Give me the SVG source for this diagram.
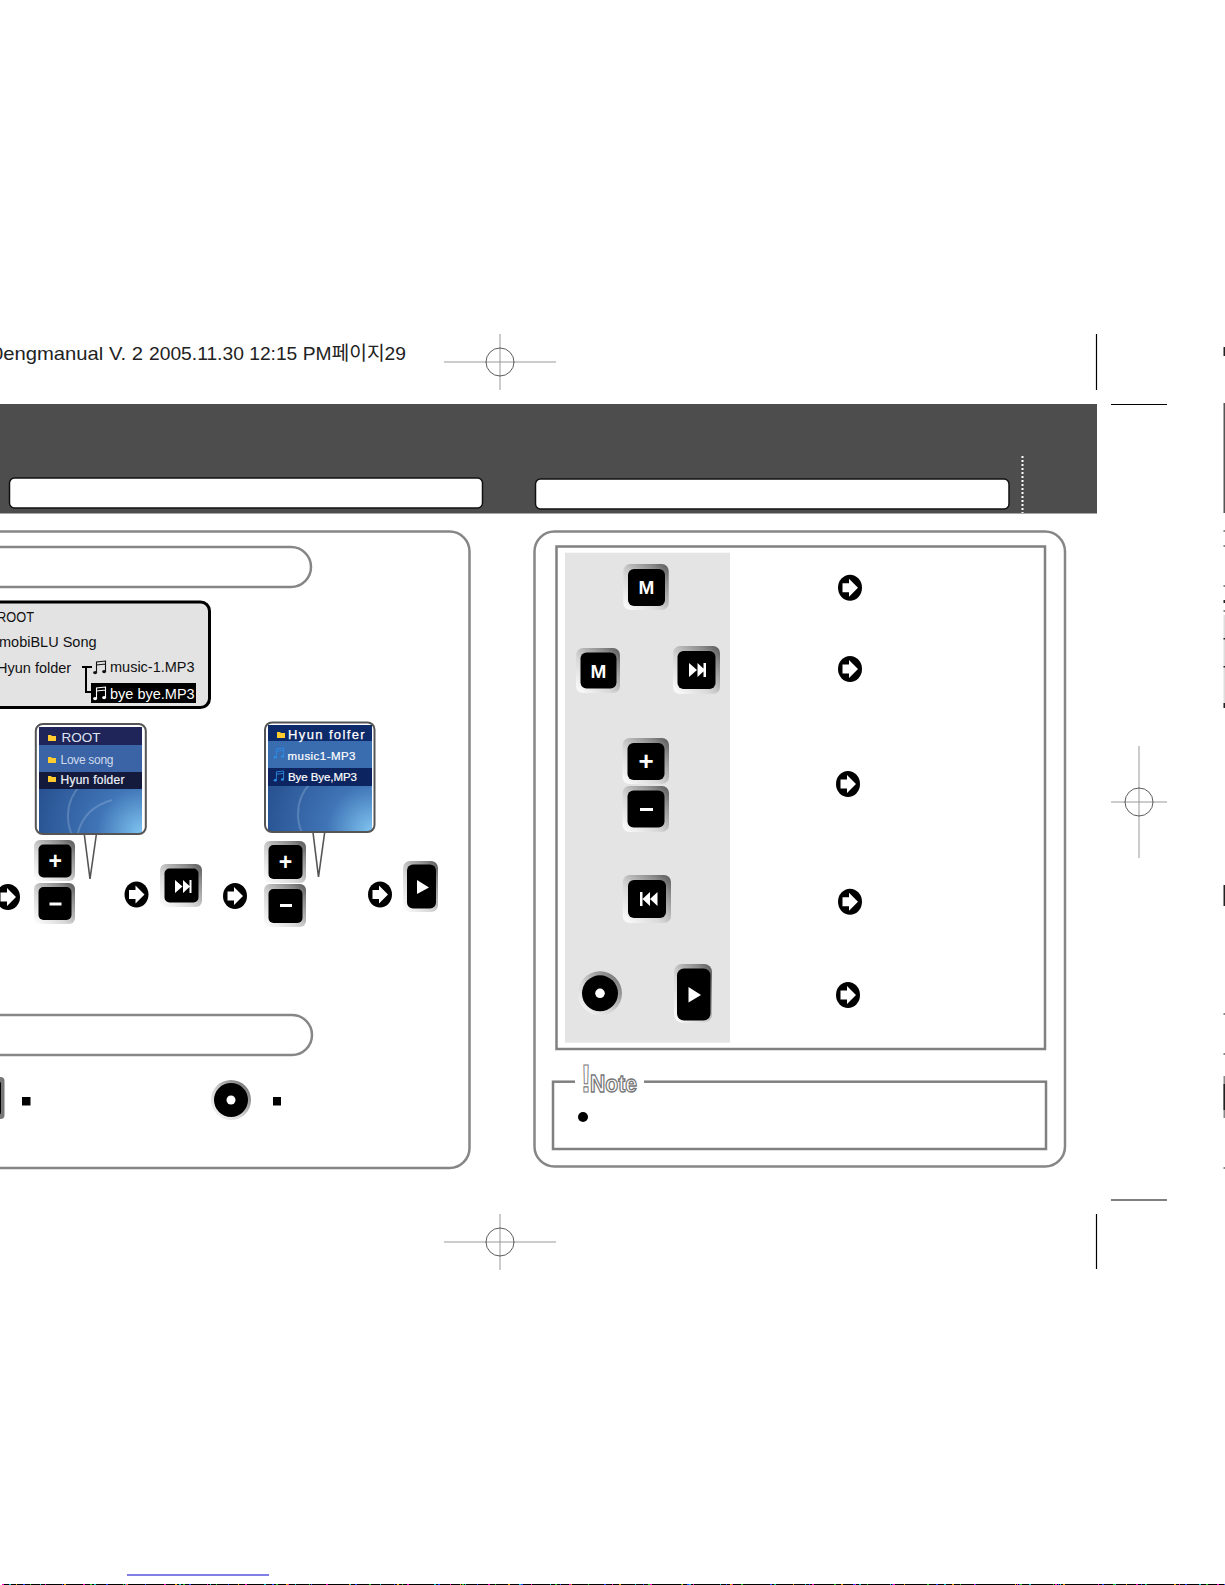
<svg xmlns="http://www.w3.org/2000/svg" xmlns:xlink="http://www.w3.org/1999/xlink" width="1225" height="1585" viewBox="0 0 1225 1585">
<style>
text{font-family:"Liberation Sans","Noto Sans CJK KR",sans-serif}
.panel{fill:#fff;stroke:#868686;stroke-width:2.5}
.box{fill:none;stroke:#808080;stroke-width:2.5}
.bar{fill:#fff;stroke:#111;stroke-width:1.5}
.reg{stroke:#999;stroke-width:1;fill:none}
.ring{stroke:#333;stroke-width:.8;fill:none}
.trim{stroke:#000;stroke-width:1.2;fill:none}
.edge{fill:#222}
.edgeg{fill:#888}
.bz{fill:url(#bezel)}
.key{fill:#000}
.g{fill:#fff}
.kt{fill:#fff;font-weight:700;text-anchor:middle}
.lcd{font-size:14.5px;fill:#111}
.scr{fill:#fff}
.tail{fill:#fff;stroke:#555;stroke-width:1.6}
.frame{fill:none;stroke:#555;stroke-width:2}
</style>
<defs>
<linearGradient id="bezel" x1="0" y1="1" x2="1" y2="0">
<stop offset="0" stop-color="#fff"/><stop offset=".4" stop-color="#d8d8d8"/><stop offset=".8" stop-color="#8a8a8a"/><stop offset="1" stop-color="#555"/>
</linearGradient>
<radialGradient id="scrbg" cx="1" cy="1" r="1.1">
<stop offset="0" stop-color="#7fc4f0"/><stop offset=".4" stop-color="#3f74b6"/><stop offset="1" stop-color="#27508f"/>
</radialGradient>
<clipPath id="c1"><rect x="39" y="727" width="103" height="106"/></clipPath>
<clipPath id="c2"><rect x="268" y="725" width="104" height="106"/></clipPath>
<g id="arrow">
<ellipse cx="0" cy="0" rx="12" ry="13" fill="#000"/>
<path d="M-7.500-4.500H-1V-9L8 0-1 9V4.500H-7.500Z" fill="#fff"/>
</g>
<path id="note" d="M3 11V1L12 0V10M3 4L12 3" fill="none" stroke="currentColor" stroke-width="1.100"/>
<g id="noteh"><use xlink:href="#note"/><ellipse cx="1.600" cy="11.600" rx="2" ry="1.600" fill="currentColor"/><ellipse cx="10.600" cy="10.600" rx="2" ry="1.600" fill="currentColor"/></g>
<path id="folder" d="M0 1H3L4 2H8V7H0Z"/>
</defs>
<rect width="1225" height="1585" fill="#fff"/>

<g id="print-header">
<text x="-8" y="360" font-size="19" textLength="151" lengthAdjust="spacingAndGlyphs" fill="#222">0engmanual V. 2</text>
<text x="149" y="360" font-size="19" textLength="257" lengthAdjust="spacingAndGlyphs" fill="#222">2005.11.30 12:15 PM페이지29</text>
</g>

<g id="crop-marks">
<path class="reg" d="M444 362H556M500 334V390M1111 802H1167M1139 746V858M444 1242H556M500 1214V1270"/>
<ellipse class="ring" cx="500" cy="362" rx="14" ry="14"/>
<ellipse class="ring" cx="1139" cy="802" rx="14" ry="14"/>
<ellipse class="ring" cx="500" cy="1242" rx="14" ry="14"/>
<path class="trim" d="M1096.500 334V390M1111 404.500H1167M1111 1200H1167M1096.500 1214V1269"/>
<rect class="edge" x="1223.500" y="347" width="1.500" height="9"/>
<rect x="1223.500" y="403" width="1.500" height="110" fill="#555"/>
<rect class="edgeg" x="1223.500" y="530" width="1.500" height="2"/>
<rect class="edgeg" x="1223.500" y="545" width="1.500" height="2"/>
<rect class="edgeg" x="1223.500" y="585" width="1.500" height="2"/>
<rect class="edge" x="1223.500" y="600" width="1.500" height="3"/>
<rect class="edgeg" x="1223.500" y="610" width="1.500" height="2"/>
<rect x="1223.500" y="615" width="1.500" height="92" fill="#ddd"/>
<rect class="edge" x="1223.500" y="638" width="1.500" height="1.500"/>
<rect class="edge" x="1223.500" y="666" width="1.500" height="1.500"/>
<rect class="edge" x="1223.500" y="703" width="1.500" height="5"/>
<rect class="edge" x="1223.500" y="885" width="1.500" height="21"/>
<rect class="edgeg" x="1223.500" y="1013" width="1.500" height="2"/>
<rect class="edgeg" x="1223.500" y="1053" width="1.500" height="2"/>
<rect class="edgeg" x="1223.500" y="1076" width="1.500" height="42"/>
<rect class="edge" x="1223.500" y="1084" width="1.500" height="26"/>
<rect class="edgeg" x="1223.500" y="1167" width="1.500" height="2"/>
<rect x="127" y="1574.500" width="142" height="1" fill="#0000cc"/>
<rect x="2" y="1584" width="1223" height="1" fill="#000"/>
<path d="M2 1584.500H1225" stroke="#ff00c0" stroke-width="1" stroke-dasharray="2 41 1 37"/>
<path d="M9 1584.500H1225" stroke="#00c8c8" stroke-width="1" stroke-dasharray="2 29 1 53"/>
<path d="M16 1584.500H1225" stroke="#e8a000" stroke-width="1" stroke-dasharray="1 47 2 61"/>
<path d="M23 1584.500H1225" stroke="#2040ff" stroke-width="1" stroke-dasharray="2 37 1 43"/>
<path d="M30 1584.500H1225" stroke="#20c020" stroke-width="1" stroke-dasharray="1 59 2 31"/>
</g>

<g id="header-band">
<rect x="0" y="404" width="1097" height="109.500" fill="#4d4d4d"/>
<rect class="bar" x="9.500" y="478" width="473" height="30" rx="5"/>
<rect class="bar" x="535.500" y="479" width="473.500" height="30" rx="5"/>
<path d="M1022.500 456V513" stroke="#fff" stroke-width="2" stroke-dasharray="2 2"/>
</g>

<g id="left-panel">
<path class="panel" d="M-20 531.500H449.500A20 20 0 0 1 469.500 551.500V1148A20 20 0 0 1 449.500 1168H-20Z"/>
<path class="panel" d="M-20 547H291A20 20 0 0 1 291 587H-20Z"/>
<path class="panel" d="M-20 1015H292A20 20 0 0 1 292 1055H-20Z"/>
</g>

<g id="folder-tree">
<rect x="-20" y="602" width="229.500" height="105.500" rx="9" fill="#e3e3e3" stroke="#000" stroke-width="3"/>
<text class="lcd" x="-3" y="621.500" textLength="37" lengthAdjust="spacingAndGlyphs">ROOT</text>
<text class="lcd" x="-1" y="647">mobiBLU Song</text>
<text class="lcd" x="-3" y="673">Hyun folder</text>
<text class="lcd" x="110" y="672">music-1.MP3</text>
<path d="M82 667H92M86 667V692H92" fill="none" stroke="#000" stroke-width="2"/>
<use xlink:href="#noteh" x="93.500" y="661" color="#111"/>
<rect x="91" y="683" width="105" height="20" fill="#000"/>
<use xlink:href="#noteh" x="93.500" y="687" color="#fff"/>
<text class="lcd" x="110" y="699" style="fill:#fff">bye bye.MP3</text>
</g>

<g id="screen-root">
<path class="tail" d="M84 832L90 879 96.700 832"/>
<rect x="39" y="727" width="103" height="106" fill="url(#scrbg)"/>
<g clip-path="url(#c1)" fill="none" stroke="#a9c2e2" stroke-opacity=".3" stroke-width="2">
<circle cx="112" cy="816" r="44"/><path d="M112 800Q84 808 78 833"/>
</g>
<rect x="39" y="727" width="103" height="18" fill="#1f2559"/>
<rect x="39" y="745" width="103" height="27" fill="#3a64a6"/>
<rect x="39" y="772" width="103" height="17" fill="#141a3c"/>
<use xlink:href="#folder" x="48" y="734" fill="#ffcb2e"/>
<use xlink:href="#folder" x="48" y="756" fill="#ffcb2e"/>
<use xlink:href="#folder" x="48" y="775" fill="#ffcb2e"/>
<text class="scr" x="61.500" y="742" font-size="13.500" style="fill:#dfe4f2">ROOT</text>
<text class="scr" x="60.500" y="764" font-size="12" textLength="53" style="fill:#cfdaec">Love song</text>
<text class="scr" x="60.500" y="784" font-size="12" textLength="64" style="fill:#eef2f8;stroke:#eef2f8;stroke-width:.2">Hyun folder</text>
<rect class="frame" x="35.800" y="724" width="110" height="110" rx="7"/>
</g>

<g id="screen-hyun">
<path class="tail" d="M312.700 830L318.500 877 325 830"/>
<rect x="268" y="725" width="104" height="106" fill="url(#scrbg)"/>
<g clip-path="url(#c2)" fill="none" stroke="#a9c2e2" stroke-opacity=".3" stroke-width="2">
<circle cx="342" cy="814" r="44"/><path d="M345 745Q380 760 372 790"/>
</g>
<rect x="268" y="725" width="104" height="16" fill="#0d2a6a"/>
<rect x="268" y="741" width="104" height="27" fill="#3a6cb0"/>
<rect x="268" y="768" width="104" height="18" fill="#0c2460"/>
<use xlink:href="#folder" x="277" y="731" fill="#ffcb2e"/>
<use xlink:href="#noteh" x="274" y="748" color="#2c8ce6" transform="translate(274 748) scale(.8) translate(-274 -748)"/>
<use xlink:href="#noteh" x="274" y="771" color="#2c8ce6" transform="translate(274 771) scale(.8) translate(-274 -771)"/>
<text class="scr" x="288" y="739" font-size="13" letter-spacing="1.300" textLength="78" style="stroke:#fff;stroke-width:.25">Hyun folfer</text>
<text class="scr" x="287.500" y="760" font-size="11.500" textLength="68" style="stroke:#fff;stroke-width:.2">music1-MP3</text>
<text class="scr" x="288" y="781" font-size="11.500" textLength="69" style="stroke:#fff;stroke-width:.2">Bye Bye,MP3</text>
<rect class="frame" x="265" y="722.500" width="109.500" height="109.500" rx="7"/>
</g>

<g id="flow-arrows-left">
<use xlink:href="#arrow" x="8" y="897"/>
<use xlink:href="#arrow" x="136.500" y="894.500"/>
<use xlink:href="#arrow" x="235" y="896"/>
<use xlink:href="#arrow" x="380" y="894.500"/>
</g>

<g id="btn-plus-1"><rect class="bz" x="34" y="840" width="41" height="41" rx="6"/><rect class="key" x="38.500" y="844.500" width="33" height="33" rx="5"/><text class="kt" x="55.200" y="869" font-size="23">+</text></g>
<g id="btn-minus-1"><rect class="bz" x="34" y="883" width="41" height="41" rx="6"/><rect class="key" x="38.500" y="887" width="33" height="33" rx="5"/><rect class="g" x="49.500" y="902.500" width="12" height="3"/></g>
<g id="btn-next-1"><rect class="bz" x="160" y="864" width="42" height="43" rx="6"/><rect class="key" x="164.500" y="868.500" width="34" height="34" rx="5"/><path class="g" d="M175 880L182.500 886.500 175 893ZM183 880L190 886.500 183 893ZM189.500 880H191.500V893H189.500Z"/></g>
<g id="btn-plus-2"><rect class="bz" x="264" y="841" width="42" height="42" rx="6"/><rect class="key" x="268.500" y="845" width="34" height="34" rx="5"/><text class="kt" x="285.500" y="870" font-size="23">+</text></g>
<g id="btn-minus-2"><rect class="bz" x="264" y="884" width="42" height="43" rx="6"/><rect class="key" x="268.500" y="889" width="34" height="34" rx="5"/><rect class="g" x="280" y="904" width="12" height="3"/></g>
<g id="btn-play-1"><rect class="bz" x="403" y="861" width="35" height="51" rx="7"/><rect class="key" x="407" y="864.500" width="29" height="44" rx="6"/><path class="g" d="M417 880L429 887.500 417 894Z"/></g>

<g id="stop-row">
<rect x="-10" y="1077" width="14.500" height="42" rx="4" fill="#777"/>
<rect x="-10" y="1081" width="11" height="34" rx="3" fill="#000"/>
<rect x="22" y="1097" width="8.500" height="8.500" fill="#000"/>
<circle cx="231" cy="1100" r="20" fill="url(#bezel)"/><circle cx="231" cy="1100" r="17" fill="#000"/><circle cx="231" cy="1100" r="4.500" fill="#fff"/>
<rect x="273" y="1097" width="8" height="8.500" fill="#000"/>
</g>

<g id="right-panel">
<rect class="panel" x="534.500" y="531.500" width="530.500" height="635" rx="20"/>
<rect class="box" x="556.500" y="546.500" width="488.500" height="502.500"/>
<rect x="565" y="552.700" width="165" height="490" fill="#e4e4e4"/>
</g>

<g id="btn-m-1"><rect class="bz" x="623.300" y="564" width="45.400" height="46" rx="7"/><rect class="key" x="628" y="569" width="37" height="37" rx="6"/><text class="kt" x="646.500" y="594" font-size="19">M</text></g>
<g id="btn-m-2"><rect class="bz" x="576" y="648" width="44" height="45" rx="7"/><rect class="key" x="580.500" y="652.500" width="36" height="36" rx="6"/><text class="kt" x="598.500" y="677.500" font-size="19">M</text></g>
<g id="btn-next-2"><rect class="bz" x="673" y="646" width="47" height="48" rx="7"/><rect class="key" x="677.500" y="651" width="38" height="38" rx="6"/><path class="g" d="M689 663L697 670 689 677ZM697.500 663L705 670 697.500 677ZM703.500 663H706V677H703.500Z"/></g>
<g id="btn-plus-3"><rect class="bz" x="622.500" y="738" width="46.500" height="46" rx="7"/><rect class="key" x="627.500" y="743" width="37" height="37" rx="6"/><text class="kt" x="646" y="770" font-size="26">+</text></g>
<g id="btn-minus-3"><rect class="bz" x="622.500" y="786" width="46.500" height="46" rx="7"/><rect class="key" x="627.500" y="790.500" width="37" height="37" rx="6"/><rect class="g" x="640" y="808" width="13" height="3"/></g>
<g id="btn-prev"><rect class="bz" x="622.700" y="875" width="48.300" height="48" rx="7"/><rect class="key" x="628" y="880" width="38" height="38" rx="6"/><path class="g" d="M640 892H642.500V906H640ZM650 892V906L642.500 899ZM657.500 892V906L650 899Z"/></g>
<g id="btn-record"><circle cx="600" cy="993.300" r="22" fill="url(#bezel)"/><circle cx="600" cy="993.300" r="18" fill="#000"/><circle cx="600" cy="993.300" r="4.800" fill="#fff"/></g>
<g id="btn-play-2"><rect class="bz" x="674" y="964" width="38" height="58.700" rx="8"/><rect class="key" x="677" y="968.500" width="33.500" height="52" rx="7"/><path class="g" d="M688.500 987L701 995 688.500 1002.500Z"/></g>

<g id="flow-arrows-right">
<use xlink:href="#arrow" x="850" y="587.700"/>
<use xlink:href="#arrow" x="850" y="669"/>
<use xlink:href="#arrow" x="848" y="784"/>
<use xlink:href="#arrow" x="850" y="901.700"/>
<use xlink:href="#arrow" x="848" y="995"/>
</g>

<g id="note-box">
<rect class="box" x="553" y="1081.700" width="493" height="67.300"/>
<rect x="575" y="1076" width="69" height="12" fill="#fff"/>
<text x="581" y="1092" font-size="38" font-weight="700" fill="#fff" stroke="#777" stroke-width="1.100" textLength="10" lengthAdjust="spacingAndGlyphs">!</text>
<text x="590" y="1092" font-size="23" font-weight="700" fill="#fff" stroke="#777" stroke-width="1.300" textLength="47" lengthAdjust="spacingAndGlyphs">Note</text>
<circle cx="583" cy="1117" r="5" fill="#000"/>
</g>
</svg>
